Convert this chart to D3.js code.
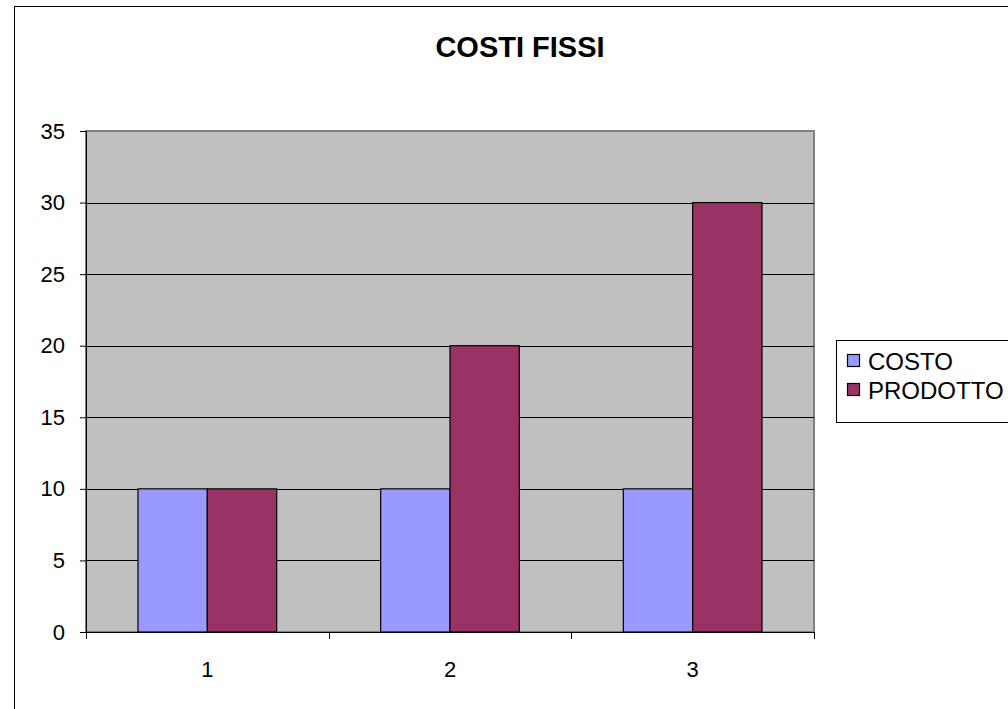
<!DOCTYPE html>
<html>
<head>
<meta charset="utf-8">
<script src="https://cdn.jsdelivr.net/npm/d3@7"></script>
<style>
  html, body { margin: 0; padding: 0; background: #fff; }
  svg { display: block; font-family: "Liberation Sans", Arial, sans-serif; }
</style>
</head>
<body>
<svg id="chart" width="1008" height="709"></svg>
<script>
// Chart data
const categories = ["1", "2", "3"];
const seriesNames = ["COSTO", "PRODOTTO"];
const costo = [10, 10, 10];
const prodotto = [10, 20, 30];
const yTicks = [0, 5, 10, 15, 20, 25, 30, 35];
const seriesColors = ["#9999FF", "#993366"];

const values = [costo, prodotto];
const rows = categories.map((c, i) => ({
  cat: c,
  vals: seriesNames.map((s, k) => ({ series: s, k, value: values[k][i] }))
}));

const svg = d3.select("#chart");

// Outer chart frame (runs off the right and bottom edges)
svg.append("rect")
  .attr("x", 14.5).attr("y", 6.5)
  .attr("width", 1100).attr("height", 800)
  .attr("fill", "#fff").attr("stroke", "#000").attr("stroke-width", 1);

const plot = { left: 86, top: 131, right: 814, bottom: 632 };

const x = d3.scaleBand()
  .domain(categories)
  .range([plot.left, plot.right])
  .paddingInner(0).paddingOuter(0);

// bars take 2 of 3.5 parts of each category slot (gap width 150%)
const groupFrac = 2 / 3.5;
const x1 = d3.scaleBand()
  .domain(seriesNames)
  .range([0, x.bandwidth() * groupFrac]);
const groupOffset = x.bandwidth() * (1 - groupFrac) / 2;

const y = d3.scaleLinear().domain([0, 35]).range([plot.bottom, plot.top]);

// Plot area
svg.append("rect")
  .attr("x", plot.left).attr("y", plot.top)
  .attr("width", plot.right - plot.left).attr("height", plot.bottom - plot.top)
  .attr("fill", "#C0C0C0").attr("stroke", "#808080").attr("stroke-width", 2);

// Gridlines
svg.append("g")
  .selectAll("line")
  .data(yTicks.filter(t => t > 0 && t < 35))
  .join("line")
  .attr("x1", plot.left).attr("x2", plot.right)
  .attr("y1", d => Math.round(y(d)) + 0.5).attr("y2", d => Math.round(y(d)) + 0.5)
  .attr("stroke", "#000").attr("stroke-width", 1);

// Bars
const groups = svg.append("g")
  .selectAll("g")
  .data(rows)
  .join("g")
  .attr("transform", d => `translate(${x(d.cat) + groupOffset},0)`);

groups.selectAll("rect")
  .data(d => d.vals)
  .join("rect")
  .attr("x", d => x1(d.series))
  .attr("y", d => y(d.value))
  .attr("width", x1.bandwidth())
  .attr("height", d => y(0) - y(d.value))
  .attr("fill", d => seriesColors[d.k])
  .attr("stroke", "#000").attr("stroke-width", 1.2);

// Y axis
const yAxis = svg.append("g")
  .attr("transform", `translate(${plot.left},0)`)
  .call(d3.axisLeft(y).tickValues(yTicks).tickSize(6).tickPadding(15).tickFormat(d3.format("d")));
yAxis.select(".domain").attr("stroke", "#000");
yAxis.selectAll(".tick line").attr("stroke", "#000");
yAxis.selectAll("text")
  .attr("fill", "#000")
  .style("font-size", "22px")
  .style("font-family", "'Liberation Sans', Arial, sans-serif");

// X axis: ticks at category boundaries, labels at centres
const xAxisG = svg.append("g")
  .attr("transform", `translate(0,${plot.bottom})`);
xAxisG.append("line")
  .attr("x1", plot.left).attr("x2", plot.right)
  .attr("y1", 0.5).attr("y2", 0.5)
  .attr("stroke", "#000");
const boundaries = categories.map(c => x(c)).concat([x(categories[categories.length - 1]) + x.bandwidth()]);
xAxisG.selectAll("line.tk")
  .data(boundaries)
  .join("line")
  .attr("class", "tk")
  .attr("x1", d => Math.round(d) + 0.5).attr("x2", d => Math.round(d) + 0.5)
  .attr("y1", 0).attr("y2", 7)
  .attr("stroke", "#000");
xAxisG.selectAll("text")
  .data(categories)
  .join("text")
  .attr("x", d => x(d) + x.bandwidth() / 2)
  .attr("y", 45)
  .attr("text-anchor", "middle")
  .style("font-size", "22px")
  .text(d => d);

// Title
svg.append("text")
  .attr("x", 520).attr("y", 57)
  .attr("text-anchor", "middle")
  .style("font-size", "29px")
  .style("font-weight", "bold")
  .text("COSTI FISSI");

// Legend
const legend = svg.append("g");
legend.append("rect")
  .attr("x", 836.5).attr("y", 340.5)
  .attr("width", 300).attr("height", 82)
  .attr("fill", "#fff").attr("stroke", "#000");
const items = legend.selectAll("g.item")
  .data(seriesNames)
  .join("g")
  .attr("class", "item")
  .attr("transform", (d, i) => `translate(0,${361 + i * 29})`);
items.append("rect")
  .attr("x", 847.5).attr("y", -6.5)
  .attr("width", 12).attr("height", 12)
  .attr("fill", (d, i) => seriesColors[i])
  .attr("stroke", "#000").attr("stroke-width", 1.2);
items.append("text")
  .attr("x", 868).attr("y", 8.5)
  .style("font-size", "24px")
  .text(d => d);
</script>
</body>
</html>
